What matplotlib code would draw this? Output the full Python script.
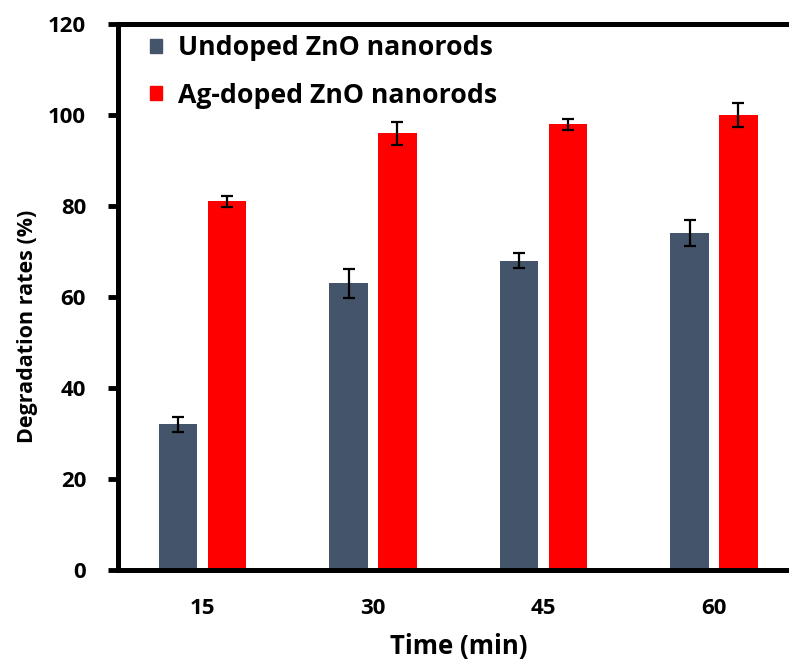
import matplotlib
matplotlib.use("Agg")
import matplotlib.pyplot as plt
from matplotlib.patches import Patch
import numpy as np

plt.rcParams['font.family'] = ['Open Sans', 'DejaVu Sans']
plt.rcParams['font.weight'] = 'bold'

times = ["15", "30", "45", "60"]
undoped = [32, 63, 68, 74]
undoped_err = [1.6, 3.2, 1.6, 2.9]
ag_doped = [81, 96, 98, 100]
ag_doped_err = [1.3, 2.5, 1.2, 2.6]
series_names = ["Undoped ZnO nanorods", "Ag-doped ZnO nanorods"]
yticks = [0, 20, 40, 60, 80, 100, 120]

c_undoped = "#44546A"
c_ag = "#FF0000"

fig = plt.figure(figsize=(7.89, 6.63), dpi=100)
ax = fig.add_axes([0.1496, 0.1403, 0.8635, 0.8235])

x = np.arange(len(times))
w = 0.226
off = 0.143
err_kw = dict(ecolor="black", elinewidth=1.6, capsize=4.3, capthick=1.6)
ax.bar(x - off, undoped, w, color=c_undoped, yerr=undoped_err, error_kw=err_kw, zorder=2)
ax.bar(x + off, ag_doped, w, color=c_ag, yerr=ag_doped_err, error_kw=err_kw, zorder=2)

ax.set_xlim(-0.496, 3.5)
ax.set_ylim(0, 120)
ax.set_yticks(yticks)
ax.set_xticks(x)
ax.set_xticklabels(times)

for s in ["left", "bottom", "top"]:
    ax.spines[s].set_linewidth(3.6)
ax.spines["right"].set_visible(False)

ax.tick_params(axis="y", direction="out", length=7, width=3.5, pad=16, labelsize=16)
ax.tick_params(axis="x", length=0, pad=20, labelsize=16)
for lab in ax.get_xticklabels() + ax.get_yticklabels():
    lab.set_fontweight("bold")

ax.set_xlabel("Time (min)", fontsize=18.5, fontweight="bold", labelpad=10)
ax.set_ylabel("Degradation rates (%)", fontsize=15.5, fontweight="bold")
ax.yaxis.set_label_coords(-0.118, 0.447)

handles = [Patch(color=c_undoped), Patch(color=c_ag)]
ax.legend(handles, series_names, loc="upper left", bbox_to_anchor=(0.012, 1.023),
          frameon=False, prop={"size": 19.2, "weight": "bold"},
          handlelength=0.45, handleheight=0.45, handletextpad=0.6, labelspacing=0.8)

fig.savefig("out.png", dpi=100)
